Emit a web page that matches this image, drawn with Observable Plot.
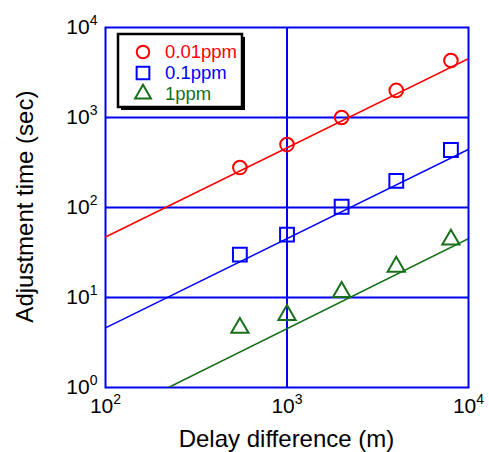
<!DOCTYPE html>
<html><head><meta charset="utf-8">
<script src="https://cdn.jsdelivr.net/npm/d3@7"></script>
<script src="https://cdn.jsdelivr.net/npm/@observablehq/plot@0.6"></script>
<style>
body{margin:0;background:#fff}
svg{font-family:"Liberation Sans",Arial,sans-serif}
</style>
</head><body><div id="chart"></div>
<script>
const delay = [550, 1000, 2000, 4000, 8000];
const series = ["0.01ppm", "0.1ppm", "1ppm"];
const colors = ["#ff0000", "#0000ff", "#17701a"];
const symbols = ["circle", "square", "triangle"];
const radii = [6.8, 7.8, 6.4];
const time001 = [278, 500, 1000, 2000, 4300];
const time01 = [30, 50, 102, 198, 435];
const time1 = [4.6, 6.4, 11.5, 22, 44];
const fitX = [100, 10000];
const fit001 = [47, 4500];
const fit01 = [4.6, 443];
const fit1 = [0.45, 45];
const xTicks = [100, 1000, 10000];
const yTicks = [1, 10, 100, 1000, 10000];
const gridX = [1000];
const gridY = [10, 100, 1000];
const xTitle = "Delay difference (m)";
const yTitle = "Adjustment time (sec)";

const gridColor = "#0000ee";
const times = [time001, time01, time1];
const fits = [fit001, fit01, fit1];

const fmt = d => "10^" + Math.round(Math.log10(d));

const marks = [
  Plot.gridX(gridX, {stroke: gridColor, strokeOpacity: 1, strokeWidth: 2}),
  Plot.gridY(gridY, {stroke: gridColor, strokeOpacity: 1, strokeWidth: 2}),
  Plot.frame({stroke: gridColor, strokeWidth: 2}),
  Plot.axisX(xTicks, {tickSize: 0, tickPadding: 11, fontSize: 21, tickFormat: fmt, label: null, color: "#000"}),
  Plot.axisY(yTicks, {tickSize: 0, tickPadding: 8, fontSize: 21, tickFormat: fmt, label: null, color: "#000"})
];
series.forEach((s, k) => {
  marks.push(Plot.line(fitX.map((x, i) => ({x, y: fits[k][i]})), {x: "x", y: "y", stroke: colors[k], strokeWidth: 1.6, clip: true}));
  marks.push(Plot.dot(delay.map((x, i) => ({x, y: times[k][i]})), {x: "x", y: "y", symbol: symbols[k], r: radii[k], stroke: colors[k], strokeWidth: 2, fill: "none"}));
});

const svg = Plot.plot({
  width: 489, height: 452,
  marginLeft: 105, marginRight: 21, marginTop: 27, marginBottom: 65,
  x: {type: "log", domain: [100, 10000]},
  y: {type: "log", domain: [1, 10000]},
  style: {fontFamily: "'Liberation Sans', Arial, sans-serif", background: "#fff"},
  marks
});
document.getElementById("chart").appendChild(svg);

// superscripts for tick labels
svg.querySelectorAll('g[aria-label$="tick label"] text').forEach(t => {
  const parts = t.textContent.split("^");
  if (parts.length !== 2) return;
  t.textContent = parts[0];
  const sup = document.createElementNS("http://www.w3.org/2000/svg", "tspan");
  sup.setAttribute("font-size", "14");
  sup.setAttribute("dy", "-9");
  sup.textContent = parts[1];
  t.appendChild(sup);
});

const root = d3.select(svg);
// axis titles
root.append("text").attr("x", 286.5).attr("y", 447).attr("text-anchor", "middle")
  .attr("font-size", 24).attr("fill", "#000").text(xTitle);
root.append("text").attr("transform", "translate(33,206.6) rotate(-90)").attr("text-anchor", "middle")
  .attr("font-size", 24).attr("fill", "#000").text(yTitle);

// legend
const g = root.append("g");
const bx = 118, by = 34, bw = 124, bh = 73;
g.append("rect").attr("x", bx + 3).attr("y", by + 3).attr("width", bw).attr("height", bh).attr("fill", "#000");
g.append("rect").attr("x", bx).attr("y", by).attr("width", bw).attr("height", bh).attr("fill", "#fff").attr("stroke", "#000").attr("stroke-width", 2.5);
const symMap = {circle: d3.symbolCircle, square: d3.symbolSquare, triangle: d3.symbolTriangle};
series.forEach((s, k) => {
  const cy = 52 + k * 21;
  g.append("path")
    .attr("d", d3.symbol(symMap[symbols[k]], Math.PI * (radii[k] * 0.92) ** 2)())
    .attr("transform", `translate(143,${cy})`)
    .attr("fill", "none").attr("stroke", colors[k]).attr("stroke-width", 2);
  g.append("text").attr("x", 165).attr("y", cy).attr("dy", "0.35em").attr("text-anchor", "start")
    .attr("font-size", 18.5).attr("fill", colors[k]).text(s);
});
</script>
</body></html>
